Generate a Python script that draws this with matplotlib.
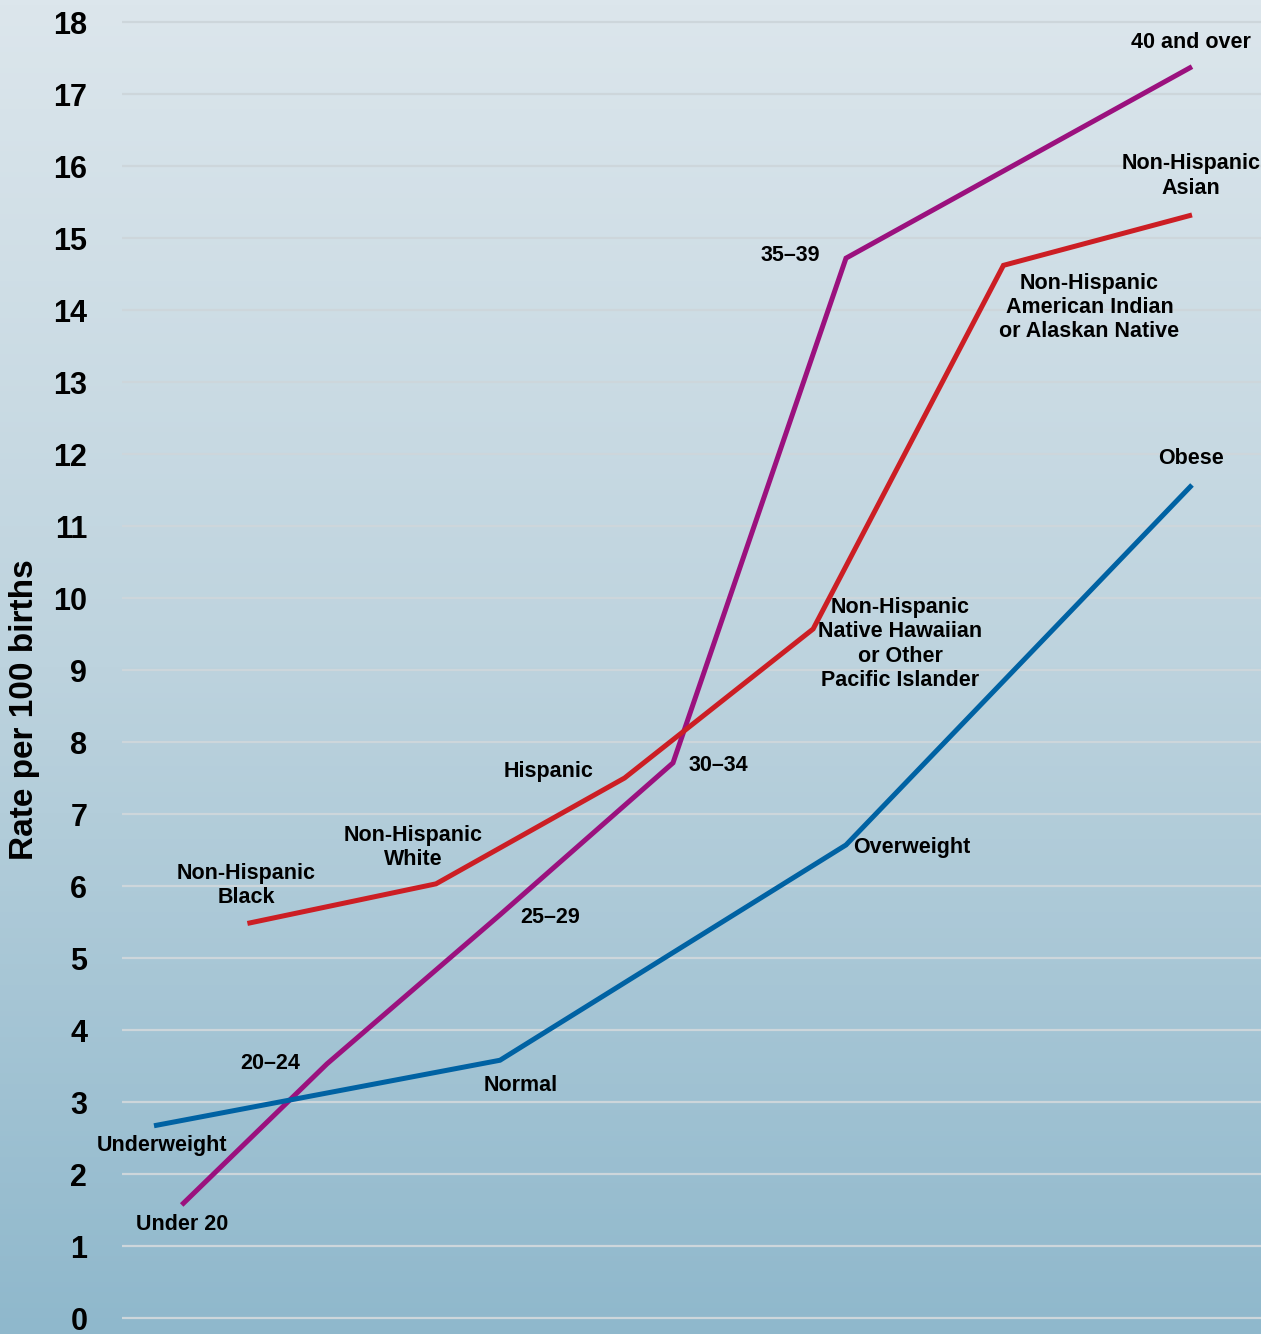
import numpy as np
import matplotlib
matplotlib.use("Agg")
import matplotlib.pyplot as plt
from matplotlib.colors import LinearSegmentedColormap

# ========== DATA ==========
# x positions are shared slot positions (age groups sit on half steps)
age_labels = ["Under 20", "20\u201324", "25\u201329", "30\u201334", "35\u201339", "40 and over"]
age_x = [0.16, 1, 2, 3, 4, 6]
age_rate = [1.57, 3.53, 5.60, 7.71, 14.72, 17.38]

bmi_labels = ["Underweight", "Normal", "Overweight", "Obese"]
bmi_x = [0, 2, 4, 6]
bmi_rate = [2.67, 3.58, 6.57, 11.57]

race_labels = ["Non-Hispanic\nBlack", "Non-Hispanic\nWhite", "Hispanic",
               "Non-Hispanic\nNative Hawaiian\nor Other\nPacific Islander",
               "Non-Hispanic\nAmerican Indian\nor Alaskan Native",
               "Non-Hispanic\nAsian"]
race_x = [0.54, 1.63, 2.72, 3.81, 4.91, 6.0]
race_rate = [5.48, 6.03, 7.50, 9.57, 14.62, 15.32]

# label offsets from each point, in pixels (dx right, dy up)
age_off = [(0, -20), (-57, 0), (50, -3), (45, -3), (-56, 3), (-1, 24)]
bmi_off = [(8, -20), (21, -25), (66, -3), (-1, 26)]
race_off = [(-1, 38), (-23, 36), (-76, 7), (87, -15), (86, -42), (-1, 39)]

COLORS = {
    'age': '#9b117e',
    'bmi': '#0062a3',
    'race': '#cc1e24',
    'grid': '#cdd6db',
}

plt.rcParams['font.family'] = ['Liberation Sans', 'DejaVu Sans']

# ========== FIGURE ==========
W, H = 1261, 1334
fig = plt.figure(figsize=(W / 100, H / 100), dpi=100)

# background gradient over the whole figure
bg = fig.add_axes([0, 0, 1, 1], zorder=0)
cmap = LinearSegmentedColormap.from_list('bg', ['#dce6ec', '#bdd3de', '#8fb8cc'])
grad = np.linspace(0, 1, 256).reshape(-1, 1)
bg.imshow(grad, aspect='auto', cmap=cmap, extent=[0, 1, 0, 1])
bg.axis('off')

ax = fig.add_axes([122 / W, 0, 1 - 122 / W, 1], zorder=1)
ax.patch.set_alpha(0)
ax.set_ylim((1318 - H) / 72, 18 + 22 / 72)
ax.set_xlim((122 - 154) / 173, (W - 154) / 173)

ax.set_yticks(range(0, 19))
ax.yaxis.grid(True, color=COLORS['grid'], lw=1.6)
ax.set_axisbelow(True)
ax.tick_params(axis='y', length=0, pad=25, labelsize=22)
for t in ax.get_yticklabels():
    t.set_fontweight('bold')
ax.set_xticks([])
for s in ax.spines.values():
    s.set_visible(False)

series = [
    (age_x, age_rate, age_labels, age_off, COLORS['age']),
    (race_x, race_rate, race_labels, race_off, COLORS['race']),
    (bmi_x, bmi_rate, bmi_labels, bmi_off, COLORS['bmi']),
]
for xs, ys, labels, offs, col in series:
    ax.plot(xs, ys, color=col, lw=3.6, solid_capstyle='butt', solid_joinstyle='miter')
    for x, y, lab, (dx, dy) in zip(xs, ys, labels, offs):
        ax.annotate(lab, (x, y), xytext=(dx, dy), textcoords='offset pixels',
                    ha='center', va='center', fontsize=15.5, fontweight='bold',
                    linespacing=1.2)

fig.text(25 / W, 1 - 710 / H, "Rate per 100 births", rotation=90,
         ha='center', va='center', fontsize=24, fontweight='bold')

plt.savefig("out.png", dpi=100)
plt.close(fig)
